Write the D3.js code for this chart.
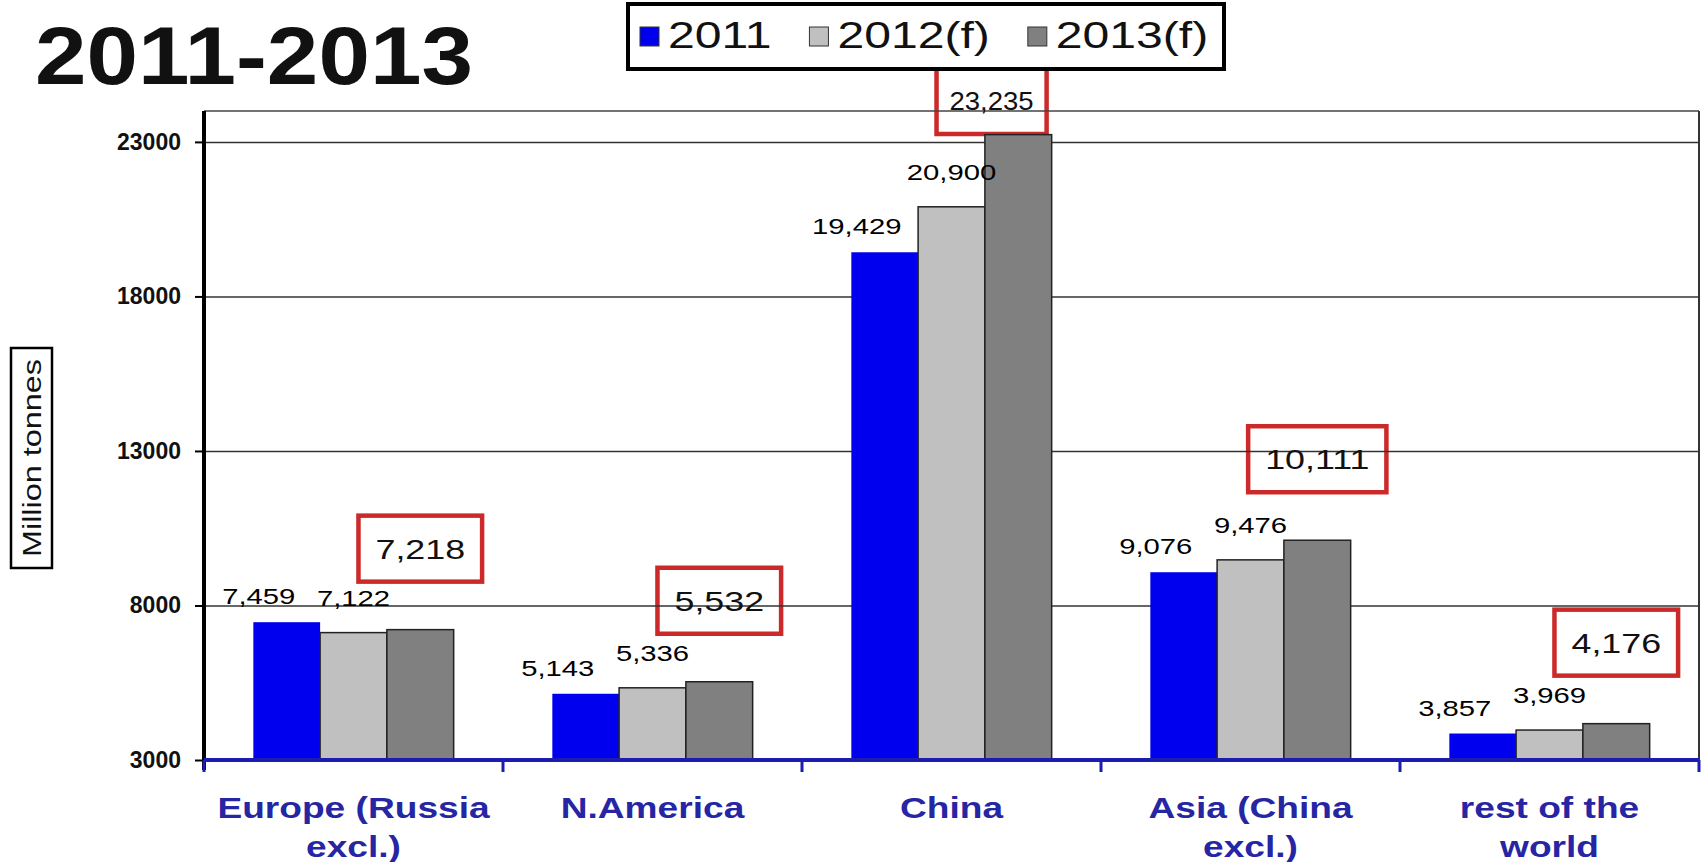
<!DOCTYPE html>
<html>
<head>
<meta charset="utf-8">
<script src="https://cdn.jsdelivr.net/npm/d3@7.9.0/dist/d3.min.js"></script>
<style>
  body { margin: 0; background: #fff; }
  svg { display: block; font-family: "Liberation Sans", Arial, sans-serif; }
</style>
</head>
<body>
<svg id="chart" width="1706" height="862"></svg>
<script>
const regions = ["Europe (Russia excl.)", "N.America", "China", "Asia (China excl.)", "rest of the world"];
const regionLines = [["Europe (Russia", "excl.)"], ["N.America"], ["China"], ["Asia (China", "excl.)"], ["rest of the", "world"]];
const seriesNames = ["2011", "2012(f)", "2013(f)"];
const values2011 = [7459, 5143, 19429, 9076, 3857];
const values2012 = [7122, 5336, 20900, 9476, 3969];
const values2013 = [7218, 5532, 23235, 10111, 4176];
const yTicks = [3000, 8000, 13000, 18000, 23000];

const svg = d3.select("#chart");
const SX = 1.28; // the source picture has its text stretched sideways
const plot = { left: 204, right: 1699, top: 111, bottom: 760 };
const width = plot.right - plot.left;

const rows = regions.map((r, i) => ({
  region: r,
  lines: regionLines[i],
  vals: [values2011[i], values2012[i], values2013[i]]
}));

const y = d3.scaleLinear().domain([3000, 24000]).range([plot.bottom, plot.top]);
const x0 = d3.scaleBand().domain(regions).range([plot.left, plot.right])
  .paddingInner(0.33).paddingOuter(0.165);
const x1 = d3.scaleBand().domain(seriesNames).range([0, x0.bandwidth()]);
const color = d3.scaleOrdinal().domain(seriesNames).range(["#0000ee", "#c0c0c0", "#808080"]);
const fmt = d3.format(",");

function stretched(parent, x, y, sx) {
  return parent.append("text").attr("transform", `translate(${x},${y}) scale(${sx},1)`);
}

// title
stretched(svg, 35, 84, 1.13)
  .attr("font-size", 82).attr("font-weight", "bold").attr("fill", "#111")
  .text("2011-2013");

// gridlines
const grid = svg.append("g").attr("transform", `translate(${plot.left},0)`)
  .call(d3.axisLeft(y).tickValues(yTicks.slice(1)).tickSize(-width).tickFormat(""));
grid.select(".domain").remove();
grid.selectAll("line").attr("stroke", "#333").attr("stroke-width", 1.5);

// frame top and right
svg.append("line").attr("x1", plot.left).attr("x2", plot.right).attr("y1", plot.top).attr("y2", plot.top)
  .attr("stroke", "#444").attr("stroke-width", 1.5);
svg.append("line").attr("x1", plot.right).attr("x2", plot.right).attr("y1", plot.top).attr("y2", plot.bottom)
  .attr("stroke", "#333").attr("stroke-width", 2);

// bars
const groups = svg.append("g").selectAll("g")
  .data(rows).join("g")
  .attr("transform", d => `translate(${x0(d.region)},0)`);

groups.selectAll("rect")
  .data(d => d.vals.map((v, i) => ({ key: seriesNames[i], v })))
  .join("rect")
  .attr("x", d => x1(d.key))
  .attr("y", d => y(d.v))
  .attr("width", x1.bandwidth())
  .attr("height", d => y(3000) - y(d.v))
  .attr("fill", d => color(d.key))
  .attr("stroke", d => d.key === "2011" ? "none" : "#222")
  .attr("stroke-width", 1.5);

// y axis
const yAxis = svg.append("g").attr("transform", `translate(${plot.left},0)`)
  .call(d3.axisLeft(y).tickValues(yTicks).tickSize(9).tickPadding(14).tickFormat(d3.format("d")));
yAxis.attr("font-family", null).attr("font-size", null);
yAxis.select(".domain").remove();
yAxis.selectAll("line").attr("stroke", "#000").attr("stroke-width", 2);
yAxis.selectAll("text")
  .attr("font-size", 23).attr("font-weight", "bold").attr("fill", "#111");

svg.append("line").attr("x1", plot.left).attr("x2", plot.left)
  .attr("y1", plot.top).attr("y2", plot.bottom + 10)
  .attr("stroke", "#000").attr("stroke-width", 4);

// x axis (blue) with ticks between categories
const axisBlue = "#1c1cb0";
svg.append("line").attr("x1", plot.left).attr("x2", plot.right)
  .attr("y1", plot.bottom).attr("y2", plot.bottom)
  .attr("stroke", axisBlue).attr("stroke-width", 4);
const half = x0.step() * x0.paddingInner() / 2;
const bounds = regions.map(r => x0(r) - half).concat([x0(regions[regions.length - 1]) + x0.bandwidth() + half]);
svg.append("g").selectAll("line").data(bounds).join("line")
  .attr("x1", d => d).attr("x2", d => d)
  .attr("y1", plot.bottom).attr("y2", plot.bottom + 12)
  .attr("stroke", axisBlue).attr("stroke-width", 3);

// category labels
rows.forEach(d => {
  const t = stretched(svg, x0(d.region) + x0.bandwidth() / 2, 818, SX)
    .attr("text-anchor", "middle").attr("font-size", 29).attr("font-weight", "bold")
    .attr("fill", "#2626a4");
  d.lines.forEach((line, i) => {
    t.append("tspan").attr("x", 0).attr("dy", i === 0 ? 0 : 39).text(line);
  });
});

// value labels for 2011 and 2012
rows.forEach(d => {
  const bx = x0(d.region);
  stretched(svg, bx + x1("2011") + x1.bandwidth() / 2 - 28, y(d.vals[0]) - 18, 1.33)
    .attr("text-anchor", "middle").attr("font-size", 22).attr("fill", "#000")
    .text(fmt(d.vals[0]));
  stretched(svg, bx + x1("2012(f)") + x1.bandwidth() / 2, y(d.vals[1]) - 27, 1.33)
    .attr("text-anchor", "middle").attr("font-size", 22).attr("fill", "#000")
    .text(fmt(d.vals[1]));
});

// red boxes for 2013
const legendBottom = 68;
rows.forEach(d => {
  let cx = x0(d.region) + x1("2013(f)") + x1.bandwidth() / 2;
  const h = 66;
  const wanted = y(d.vals[2]) - 48 - h;
  const clamped = wanted < legendBottom;
  const top = clamped ? legendBottom : wanted;
  // a box pushed against the legend is drawn smaller and nudged left
  if (clamped) cx -= x1.bandwidth() * 0.4;
  const fs = clamped ? 25 : 28;
  const sx = clamped ? 1.1 : SX;
  const t = stretched(svg, cx, top + h / 2 + fs * 0.36, sx)
    .attr("text-anchor", "middle").attr("font-size", fs).attr("fill", "#111")
    .text(fmt(d.vals[2]));
  const w = t.node().getComputedTextLength() * sx + (clamped ? 26 : 34);
  svg.insert("rect", "text")
    .attr("x", cx - w / 2).attr("y", top).attr("width", w).attr("height", h)
    .attr("fill", "none").attr("stroke", "#cc2a2a").attr("stroke-width", 4.5);
});

// y axis title
svg.append("rect").attr("x", 11).attr("y", 348).attr("width", 41).attr("height", 220)
  .attr("fill", "#fff").attr("stroke", "#000").attr("stroke-width", 2.5);
svg.append("text")
  .attr("transform", "translate(41,458) rotate(-90)")
  .attr("text-anchor", "middle").attr("font-size", 25).attr("fill", "#111")
  .attr("textLength", 198).attr("lengthAdjust", "spacingAndGlyphs")
  .text("Million tonnes");

// legend
const legend = svg.append("g");
const legendLeft = 628;
legend.append("rect")
  .attr("x", legendLeft).attr("y", 4).attr("width", 596).attr("height", 65)
  .attr("fill", "#fff").attr("stroke", "#000").attr("stroke-width", 4);
let lx = legendLeft + 12;
seriesNames.forEach(name => {
  legend.append("rect").attr("x", lx).attr("y", 27).attr("width", 19).attr("height", 19)
    .attr("fill", color(name)).attr("stroke", "#333").attr("stroke-width", 1);
  lx += 19 + 9;
  const t = stretched(legend, lx, 48, 1.3).attr("font-size", 37).attr("fill", "#111").text(name);
  lx += t.node().getComputedTextLength() * 1.3 + 38;
});
</script>
</body>
</html>
